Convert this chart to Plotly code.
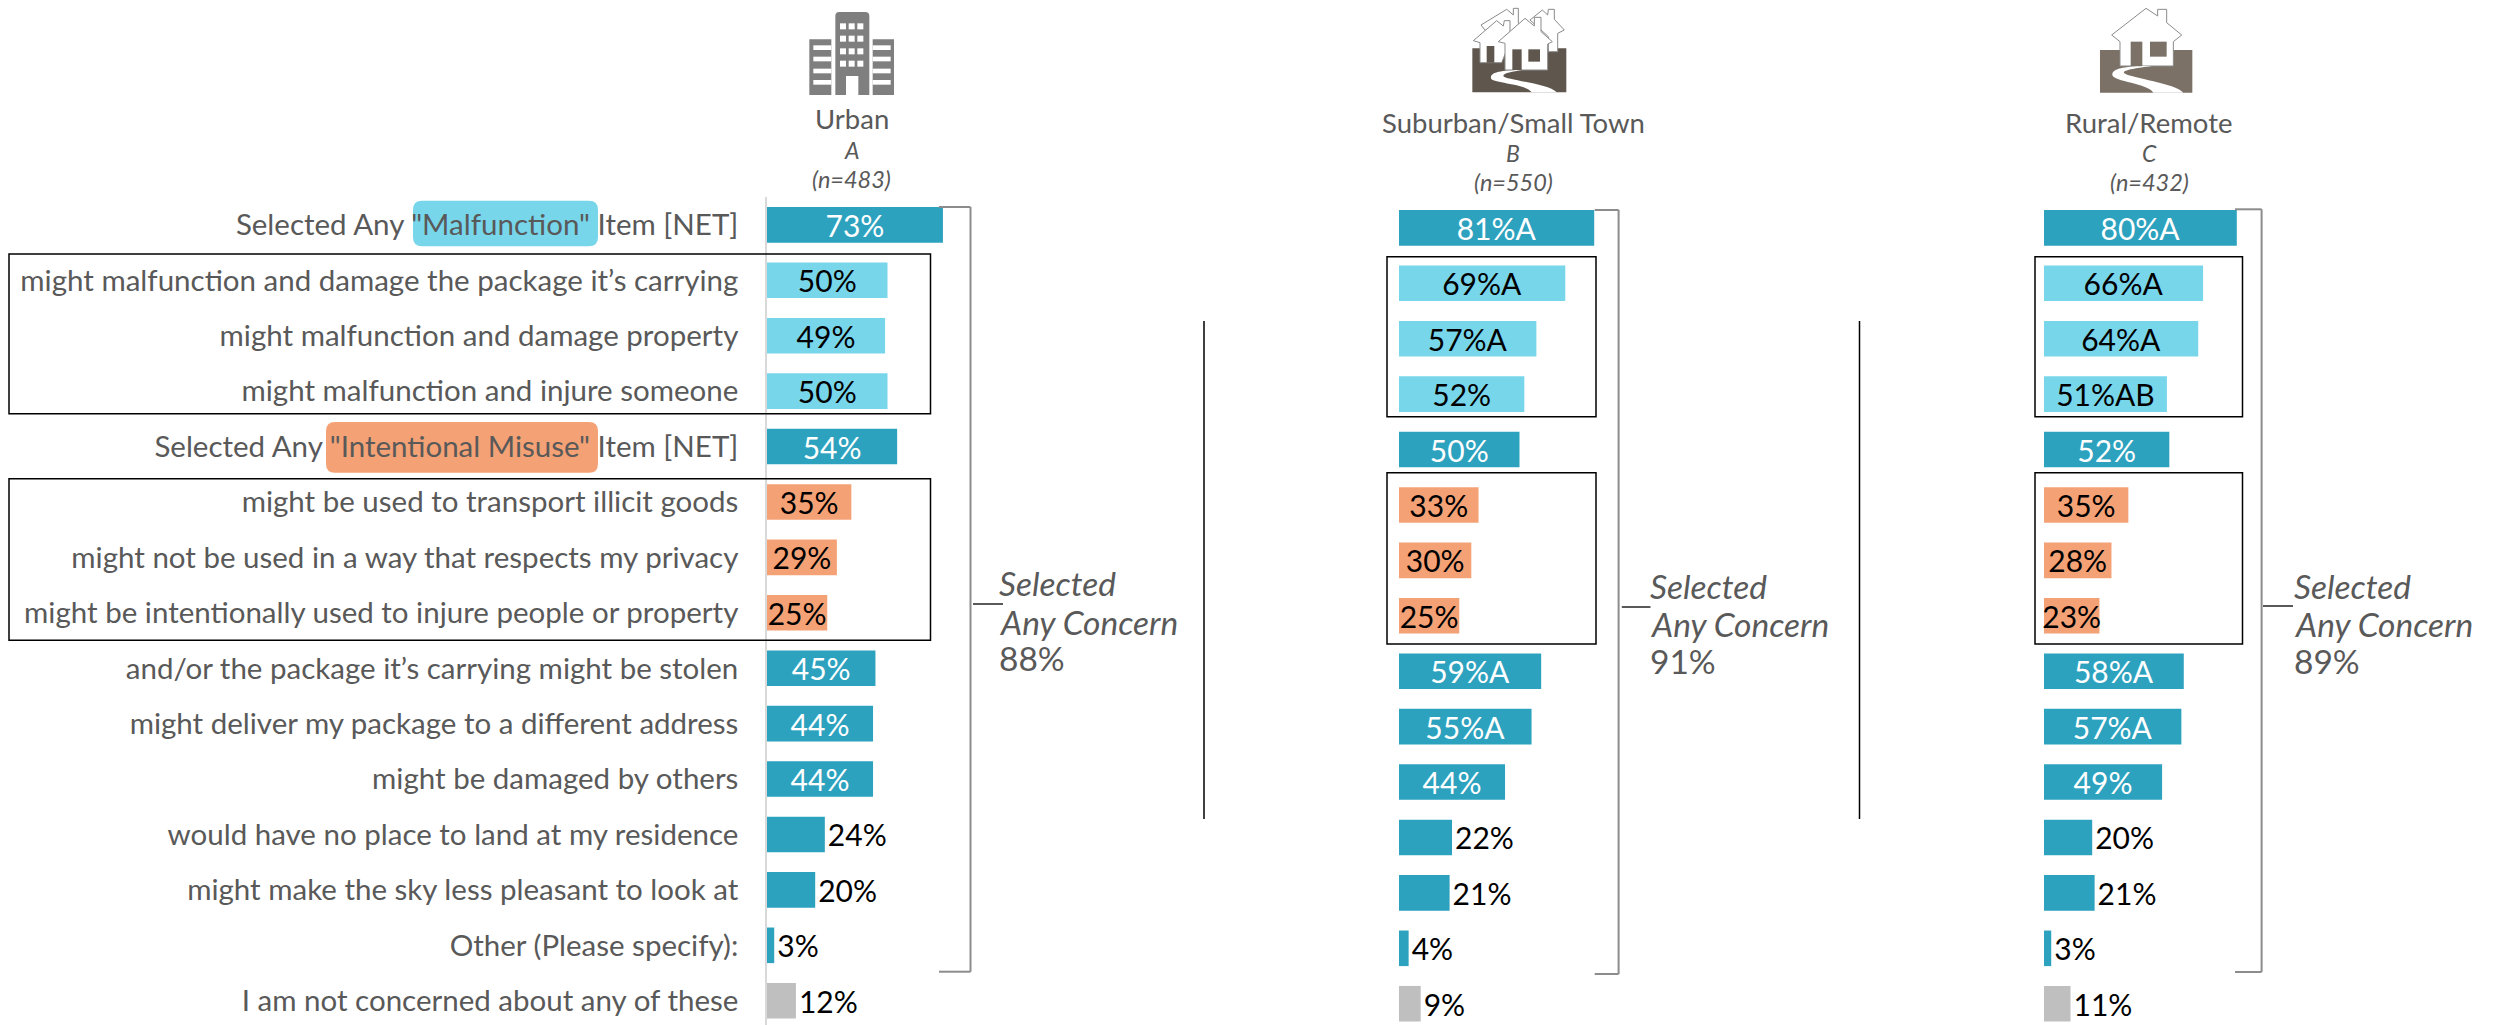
import re
import plotly.graph_objects as go

W, H = 2501, 1025

categories = [
    'Selected Any "Malfunction" Item [NET]',
    "might malfunction and damage the package it’s carrying",
    "might malfunction and damage property",
    "might malfunction and injure someone",
    'Selected Any "Intentional Misuse" Item [NET]',
    "might be used to transport illicit goods",
    "might not be used in a way that respects my privacy",
    "might be intentionally used to injure people or property",
    "and/or the package it’s carrying might be stolen",
    "might deliver my package to a different address",
    "might be damaged by others",
    "would have no place to land at my residence",
    "might make the sky less pleasant to look at",
    "Other (Please specify):",
    "I am not concerned about any of these",
]
urban_values = [73, 50, 49, 50, 54, 35, 29, 25, 45, 44, 44, 24, 20, 3, 12]
suburban_values = [81, 69, 57, 52, 50, 33, 30, 25, 59, 55, 44, 22, 21, 4, 9]
rural_values = [80, 66, 64, 51, 52, 35, 28, 23, 58, 57, 49, 20, 21, 3, 11]
urban_sig = [""] * 15
suburban_sig = ["A", "A", "A", "", "", "", "", "", "A", "A", "", "", "", "", ""]
rural_sig = ["A", "A", "A", "AB", "", "", "", "", "A", "A", "", "", "", "", ""]
any_concern = ["88%", "91%", "89%"]
headers = ["Urban", "Suburban/Small Town", "Rural/Remote"]
letters = ["A", "B", "C"]
bases = ["(n=483)", "(n=550)", "(n=432)"]

DARK, LIGHT, ORANGE, GREY = "#2da2bf", "#78d6eb", "#f4a275", "#bfbfbf"
bar_colors = [DARK, LIGHT, LIGHT, LIGHT, DARK, ORANGE, ORANGE, ORANGE,
              DARK, DARK, DARK, DARK, DARK, DARK, GREY]
outside_below = 25  # shorter bars carry the label outside, unless in a box

FONT = "Lato"
TXT = "#595959"
PX_PER_PCT = 2.41
PITCH = 55.42
PANEL_W = 320


def fx(x):
    return x / W


def fy(y):
    return 1 - y / H


def line(x0, y0, x1, y1, color="black", width=1.5):
    return dict(type="line", xref="paper", yref="paper", x0=fx(x0), x1=fx(x1),
                y0=fy(y0), y1=fy(y1), line=dict(color=color, width=width))


def rect(x0, y0, x1, y1, color="black", width=1.5):
    return dict(type="rect", xref="paper", yref="paper", x0=fx(x0), x1=fx(x1),
                y0=fy(y0), y1=fy(y1), line=dict(color=color, width=width))


def icon(ox, path, fill, stroke=None, sw=1):
    """Path written in 3x icon-crop coordinates with origin ox, 0."""
    out, isx = [], True
    for t in re.findall(r"[A-Za-z]|-?[\d.]+", path):
        if t.isalpha():
            out.append(t)
            isx = True
        else:
            v = float(t) / 3
            out.append(f"{fx(ox + v):.5f}" if isx else f"{fy(v):.5f}")
            isx = not isx
    return dict(type="path", xref="paper", yref="paper", path=" ".join(out),
                fillcolor=fill, line=dict(color=stroke or "rgba(0,0,0,0)", width=sw if stroke else 0))


def box(x0, y0, x1, y1):
    return f"M {x0} {y0} L {x1} {y0} L {x1} {y1} L {x0} {y1} Z"


def rounded(x0, y0, x1, y1, r, color):
    p = (f"M {fx(x0+r):.5f} {fy(y0):.5f} L {fx(x1-r):.5f} {fy(y0):.5f} "
         f"Q {fx(x1):.5f} {fy(y0):.5f} {fx(x1):.5f} {fy(y0+r):.5f} "
         f"L {fx(x1):.5f} {fy(y1-r):.5f} Q {fx(x1):.5f} {fy(y1):.5f} {fx(x1-r):.5f} {fy(y1):.5f} "
         f"L {fx(x0+r):.5f} {fy(y1):.5f} Q {fx(x0):.5f} {fy(y1):.5f} {fx(x0):.5f} {fy(y1-r):.5f} "
         f"L {fx(x0):.5f} {fy(y0+r):.5f} Q {fx(x0):.5f} {fy(y0):.5f} {fx(x0+r):.5f} {fy(y0):.5f} Z")
    return dict(type="path", xref="paper", yref="paper", path=p, fillcolor=color,
                line=dict(width=0), layer="below")


fig = go.Figure()

panels = [
    dict(vals=urban_values, sig=urban_sig, x0=767, c0=224.85, ax="", ),
    dict(vals=suburban_values, sig=suburban_sig, x0=1399, c0=227.85, ax="2"),
    dict(vals=rural_values, sig=rural_sig, x0=2044, c0=227.85, ax="3"),
]
layout_axes = {}
for i, p in enumerate(panels):
    texts, pos, colors = [], [], []
    for j, (v, s) in enumerate(zip(p["vals"], p["sig"])):
        texts.append(f"{v}%{s}")
        inside = bar_colors[j] in (LIGHT, ORANGE) or v > outside_below
        pos.append("inside" if inside else "outside")
        colors.append("white" if inside and bar_colors[j] == DARK else "black")
    fig.add_trace(go.Bar(
        x=p["vals"], y=categories, orientation="h", width=0.642,
        marker=dict(color=bar_colors, line=dict(width=0)),
        text=texts, textposition=pos, textangle=0, insidetextanchor="middle",
        constraintext="none", cliponaxis=False,
        textfont=dict(family=FONT, size=30, color=colors),
        showlegend=False, hoverinfo="skip",
        xaxis="x" + p["ax"], yaxis="y" + p["ax"],
    ))
    top = p["c0"] - PITCH / 2
    bottom_val = -0.5 + (H - top) / PITCH
    layout_axes["xaxis" + p["ax"]] = dict(
        domain=[fx(p["x0"]), fx(p["x0"] + PANEL_W)], range=[0, PANEL_W / PX_PER_PCT],
        visible=False, anchor="y" + p["ax"], fixedrange=True)
    layout_axes["yaxis" + p["ax"]] = dict(
        domain=[0, fy(top)], range=[bottom_val, -0.5], type="category",
        categoryorder="array", categoryarray=categories,
        anchor="x" + p["ax"], showgrid=False, zeroline=False, ticks="",
        showticklabels=i == 0, showline=i == 0, linecolor="#d9d9d9", linewidth=1.5,
        ticklabelstandoff=21, tickfont=dict(family=FONT, size=29.5, color=TXT))

shapes = [
    rounded(413, 200.7, 598, 246.3, 9, LIGHT),
    rounded(326, 422, 598, 472.7, 9, ORANGE),
    # outline boxes
    rect(9, 254, 930.5, 413.7), rect(9, 478.7, 930.5, 640.3),
    rect(1387, 256.7, 1596, 416.7), rect(1387, 472.7, 1596, 644),
    rect(2035, 256.7, 2242.5, 416.7), rect(2035, 472.7, 2242.5, 644),
    # panel separators
    line(1204, 321, 1204, 819), line(1859.5, 321, 1859.5, 819),
]
BR = "#8c8c8c"
annos = []


def text(x, y, s, size, italic=False, anchor="center", color=TXT):
    annos.append(dict(xref="paper", yref="paper", x=fx(x), y=fy(y), text=s, showarrow=False,
                      xanchor=anchor, yanchor="middle", borderpad=0,
                      font=dict(family=FONT, size=size, color=color,
                                style="italic" if italic else "normal")))


brackets = [
    (939, 970.5, 207, 971.7, 604, 973, 1003, 998, (583, 621.7, 658)),
    (1594.7, 1618.6, 210, 974, 607, 1621.8, 1650.5, 1649, (586, 624, 661)),
    (2235, 2261.6, 209.3, 972, 606, 2263, 2293, 2293, (586, 624, 661)),
]
for i, (xa, xb, yt, yb, ym, t0, t1, tx, ys) in enumerate(brackets):
    shapes += [line(xa, yt, xb, yt, BR, 2), line(xb, yt, xb, yb, BR, 2), line(xa, yb, xb, yb, BR, 2),
               line(t0, ym, t1, ym, "#595959", 2)]
    text(tx, ys[0], "Selected", 33.5, True, "left")
    text(tx, ys[1], "Any Concern", 33.5, True, "left")
    text(tx, ys[2], any_concern[i], 33.5, False, "left")

hdr = [(851.7, (119, 150, 179)), (1513, (122, 152.7, 181.7)), (2149, (122, 152.7, 181.7))]
for i, (cx, ys) in enumerate(hdr):
    text(cx, ys[0], headers[i], 27.5)
    text(cx, ys[1], letters[i], 23, True)
    text(cx, ys[2], bases[i], 23.5, True)

# Urban icon
G = "#7f7f7f"
ox = 790
shapes.append(icon(ox, "M 136 285 L 136 48 Q 136 36 148 36 L 226 36 Q 238 36 238 48 L 238 285 Z", G))
shapes.append(icon(ox, box(58, 118, 124, 285), G))
shapes.append(icon(ox, box(248, 118, 312, 285), G))
for y in (70, 107, 145, 182):
    for x in (150, 176, 202):
        shapes.append(icon(ox, box(x, y, x + 18, y + 18), "white"))
for y in (136, 170, 206, 240):
    shapes.append(icon(ox, box(70, y, 124, y + 14), "white"))
    shapes.append(icon(ox, box(248, y, 302, y + 14), "white"))
shapes.append(icon(ox, box(168, 228, 205, 285), "white"))

# Suburban icon
B_C = "#5f564d"
ox = 1455
shapes.append(icon(ox, box(52, 145, 334, 277), B_C))
O = "#8a8a8a"
shapes.append(icon(ox, "M 78 75 L 155 28 L 175 45 L 175 25 L 190 25 L 190 70 L 210 88 L 130 120 L 90 90 Z", "white", O, 1))
shapes.append(icon(ox, "M 225 60 L 262 30 L 278 45 L 280 28 L 298 28 L 298 58 L 328 90 L 308 100 L 308 155 L 280 155 L 280 110 Z", "white", O, 1))
shapes.append(icon(ox, "M 55 122 L 125 62 L 145 78 L 148 62 L 165 62 L 165 95 L 185 115 L 165 125 L 140 188 L 75 188 L 75 128 Z", "white", O, 1))
shapes.append(icon(ox, box(95, 138, 118, 188), B_C))
shapes.append(icon(ox, "M 130 125 L 210 55 L 238 78 L 238 52 L 258 52 L 258 95 L 292 125 L 278 132 L 278 210 L 150 210 L 150 130 Z", "white", O, 1))
shapes.append(icon(ox, box(172, 148, 200, 210), B_C))
shapes.append(icon(ox, box(220, 148, 255, 185), B_C))
shapes.append(icon(ox, "M 195 210 C 140 212 105 215 108 235 C 110 250 210 250 230 277 L 305 277 C 280 250 150 240 145 228 C 145 218 175 215 200 210 Z", "white"))

# Rural icon
R_C = "#7b7166"
ox = 2085
shapes.append(icon(ox, box(45, 150, 322, 278), R_C))
shapes.append(icon(ox, "M 80 105 L 183 25 L 218 48 L 218 28 L 245 28 L 245 68 L 290 105 L 265 125 L 265 198 L 105 198 L 105 125 Z", "white", O, 1))
shapes.append(icon(ox, box(137, 125, 172, 198), R_C))
shapes.append(icon(ox, box(195, 125, 245, 170), R_C))
shapes.append(icon(ox, "M 175 198 C 120 200 80 205 82 225 C 85 245 190 250 205 278 L 295 278 C 270 250 140 235 118 220 C 110 210 150 205 200 198 Z", "white"))

fig.update_layout(
    width=W, height=H, margin=dict(l=0, r=0, t=0, b=0), autosize=False,
    paper_bgcolor="white", plot_bgcolor="rgba(0,0,0,0)", barmode="overlay",
    shapes=shapes, annotations=annos, **layout_axes,
)
fig.write_html("out.html", post_script="document.body.style.margin='0';", config=dict(displayModeBar=False))
